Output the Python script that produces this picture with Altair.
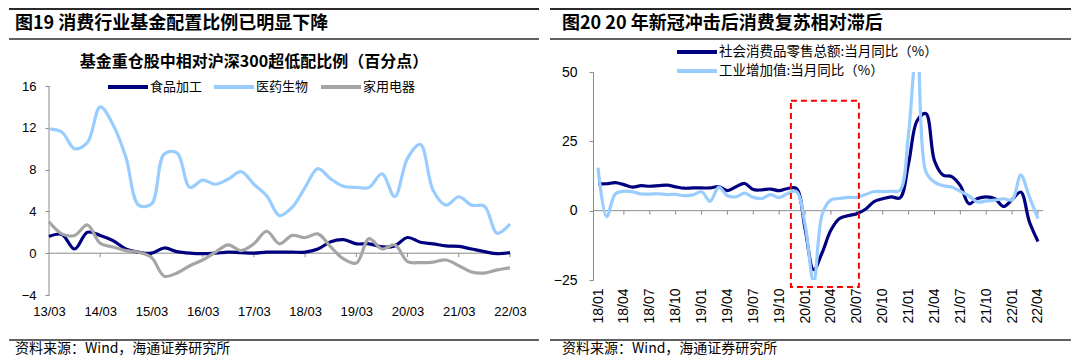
import altair as alt
import pandas as pd

CJK = "Noto Sans CJK SC"
LAT = "Liberation Sans"

# ---------------- left panel data (quarterly) ----------------
quarter_labels = [f"{y:02d}/{m:02d}" for y in range(13, 23) for m in (3, 6, 9, 12)][:37]
food = [1.6, 1.8, 0.4, 2.0, 1.7, 1.2, 0.4, 0.1, 0.0, 0.5, 0.15, 0.0,
        -0.05, 0.0, 0.1, 0.05, 0.0, 0.1, 0.1, 0.1, 0.1, 0.4, 1.1, 1.3,
        0.9, 0.9, 0.6, 0.7, 1.5, 1.05, 0.9, 0.7, 0.65, 0.4, 0.15, -0.05, 0.05]
pharma = [11.9, 11.6, 10.0, 10.6, 14.0, 12.3, 9.2, 4.6, 4.7, 9.5, 9.6, 6.3,
          7.0, 6.6, 7.1, 7.8, 6.6, 5.5, 3.6, 4.4, 6.3, 8.1, 7.1, 6.4,
          6.3, 6.3, 7.6, 5.4, 9.1, 10.4, 6.0, 4.6, 5.4, 4.6, 4.5, 1.9, 2.8]
appliance = [3.0, 1.85, 1.7, 2.7, 0.95, 0.6, 0.25, 0.1, -0.4, -2.2, -1.9, -1.2,
             -0.65, 0.1, 0.8, 0.25, 0.9, 2.1, 0.9, 1.7, 1.5, 1.85, 0.6, -0.55,
             -0.95, 1.4, 0.4, 0.8, -0.8, -0.9, -0.85, -0.65, -1.2, -1.8, -1.9, -1.6, -1.4]
left_series = ["食品加工", "医药生物", "家用电器"]
left_colors = ["#00007F", "#99CCFF", "#A5A5A5"]
left_tick_idx = list(range(0, 37, 4))
left_tick_labels = ["13/03", "14/03", "15/03", "16/03", "17/03", "18/03", "19/03", "20/03", "21/03", "22/03"]
left_y_ticks = [-4, 0, 4, 8, 12, 16]

# ---------------- right panel data (monthly) ----------------
month_labels = [f"{y:02d}/{m:02d}" for y in range(18, 23) for m in range(1, 13)][:52]
retail = [9.7, 9.7, 10.1, 9.4, 8.5, 9.0, 8.8, 9.0, 9.2, 8.6, 8.1, 8.2,
          8.2, 8.2, 8.7, 7.2, 8.6, 9.8, 7.6, 7.5, 7.8, 7.2, 8.0, 8.0,
          -6.5, -21.3, -15.0, -7.0, -2.8, -1.8, -1.1, 0.5, 3.3, 4.3, 5.0, 4.6,
          17.0, 32.5, 35.0, 18.0, 12.8, 12.3, 9.0, 2.5, 4.4, 5.0, 4.3, 1.5,
          4.0, 6.7, -4.0, -11.1]
industry = [15.5, -2.2, 6.0, 7.0, 6.8, 6.0, 6.0, 6.1, 5.8, 5.9, 5.4, 5.7,
            6.8, 3.4, 8.5, 5.4, 5.0, 6.3, 4.8, 4.4, 5.8, 4.7, 6.2, 6.9,
            -5.0, -25.9, -1.1, 3.9, 4.4, 4.8, 4.8, 5.8, 6.9, 6.9, 7.0, 7.3,
            28.0, 62.0, 14.1, 10.3, 9.0, 8.5, 7.0, 5.3, 3.1, 3.5, 3.8, 4.3,
            3.9, 12.8, 5.0, -2.9]
right_series = ["社会消费品零售总额:当月同比（%）", "工业增加值:当月同比（%）"]
right_colors = ["#00007F", "#99CCFF"]
right_tick_idx = list(range(0, 52, 3))
right_tick_labels = [month_labels[i] for i in right_tick_idx]
right_y_ticks = [-25, 0, 25, 50]
box_x = [22.36, 30.24]
box_y = [39.6, -27.5]

left_title = "图19 消费行业基金配置比例已明显下降"
left_chart_title = "基金重仓股中相对沪深300超低配比例（百分点）"
right_title = "图20 20 年新冠冲击后消费复苏相对滞后"
source_text = "资料来源：Wind，海通证券研究所"

# ---------------- frames ----------------
left_df = pd.DataFrame(
    [{"i": i, "v": v, "s": s}
     for s, vals in zip(left_series, [food, pharma, appliance])
     for i, v in enumerate(vals)]
)
right_df = pd.DataFrame(
    [{"m": i, "w": v, "t": s}
     for s, vals in zip(right_series, [retail, industry])
     for i, v in enumerate(vals)]
)
dummy = pd.DataFrame({"k": [0]})
AX_GRAY = "#8C8C8C"


def label_expr(labels, step):
    arr = ",".join(f"'{l}'" for l in labels)
    return f"[{arr}][round(datum.value/{step})]"


def hrule(x1, x2, y, w=2, color="#2B2B2B"):
    return alt.Chart(dummy).mark_rule(color=color, strokeWidth=w).encode(
        x=alt.value(x1), x2=alt.value(x2), y=alt.value(y))


def label(txt, x, y, size, bold=False, align="left", font=CJK):
    return alt.Chart(dummy).mark_text(
        text=txt, align=align, baseline="middle", fontSize=size,
        fontWeight="bold" if bold else "normal", font=font, color="#000000"
    ).encode(x=alt.value(x), y=alt.value(y))


def legend_item(x1, y, color, txt, size=13):
    return [hrule(x1, x1 + 40, y, 4, color), label(txt, x1 + 42, y, size)]


# ---------------- left chart (origin at page 48,72) ----------------
L_W = 461
L_TOP = 17.34           # headroom so both panels share the same top edge
L_H = 223
L_XSC = alt.Scale(domain=[0, 36], nice=False, zero=False)
L_YSC = alt.Scale(domain=[-4, L_TOP], nice=False, zero=False)
L_XAX = alt.Axis(values=left_tick_idx, labelExpr=label_expr(left_tick_labels, 4),
                 title=None, grid=False, domain=False, ticks=False, tickSize=0,
                 labelPadding=10, labelFont=LAT, labelFontSize=13, labelColor="#000000",
                 labelAngle=0, labelFlush=False, labelOverlap=False)
L_YAX = alt.Axis(values=left_y_ticks, title=None, grid=False, domain=False,
                 tickColor=AX_GRAY, tickSize=4, labelPadding=9, labelFont=LAT,
                 labelFontSize=13, labelColor="#000000", labelOverlap=False)

left_yline = alt.Chart(dummy).mark_rule(color=AX_GRAY, strokeWidth=1).encode(
    x=alt.value(0), y=alt.datum(left_y_ticks[0], axis=L_YAX, scale=L_YSC),
    y2=alt.datum(left_y_ticks[-1]))
left_zero = alt.Chart(dummy).mark_rule(color=AX_GRAY, strokeWidth=1).encode(
    y=alt.datum(0, axis=L_YAX, scale=L_YSC))
left_ticks = alt.Chart(pd.DataFrame({"i": left_tick_idx[1:]})).mark_rule(
    color=AX_GRAY, strokeWidth=1, y2Offset=4).encode(
    x=alt.X("i:Q", axis=L_XAX, scale=L_XSC),
    y=alt.datum(0, axis=L_YAX, scale=L_YSC), y2=alt.datum(0))
left_lines = alt.Chart(left_df).mark_line(strokeWidth=3.2, interpolate="catmull-rom").encode(
    x=alt.X("i:Q", axis=L_XAX, scale=L_XSC),
    y=alt.Y("v:Q", axis=L_YAX, scale=L_YSC),
    color=alt.Color("s:N", scale=alt.Scale(domain=left_series, range=left_colors), legend=None),
)

left_layers = [left_yline, left_zero, left_ticks, left_lines,
               hrule(-40, 490, -63, 2),
               label(left_title, -34, -48, 18, bold=True),
               hrule(-40, 490, -33, 1.5),
               label(left_chart_title, 205, -10, 16, bold=True, align="center"),
               hrule(-40, 490, 268, 1.5),
               label(source_text, -34, 276.5, 14)]
for x1, s, c in zip([59, 165, 272], left_series, left_colors):
    left_layers += legend_item(x1, 15, c, s)
left = alt.layer(*left_layers).properties(width=L_W, height=L_H)

# ---------------- right chart (origin at page 593,72) ----------------
R_W, R_H = 450, 208
R_XSC = alt.Scale(domain=[-0.58, 51.58], nice=False, zero=False)
R_YSC = alt.Scale(domain=[-25, 50], nice=False, zero=False)
R_XAX = alt.Axis(values=right_tick_idx, labelExpr=label_expr(right_tick_labels, 3),
                 title=None, grid=False, domain=False, ticks=False, tickSize=0,
                 labelPadding=8, labelFont=LAT, labelFontSize=14, labelColor="#000000",
                 labelAngle=270, labelAlign="right", labelBaseline="middle",
                 labelFlush=False, labelOverlap=False, labelSeparation=0)
R_YAX = alt.Axis(values=right_y_ticks, title=None, grid=False, domainColor=AX_GRAY,
                 tickColor=AX_GRAY, tickSize=4, labelPadding=12, labelFont=LAT,
                 labelFontSize=14, labelColor="#000000", labelOverlap=False)

right_zero = alt.Chart(dummy).mark_rule(color=AX_GRAY, strokeWidth=1).encode(
    y=alt.datum(0, axis=R_YAX, scale=R_YSC))
right_ticks = alt.Chart(pd.DataFrame({"m": right_tick_idx[1:]})).mark_rule(
    color=AX_GRAY, strokeWidth=1, y2Offset=4).encode(
    x=alt.X("m:Q", axis=R_XAX, scale=R_XSC),
    y=alt.datum(0, axis=R_YAX, scale=R_YSC), y2=alt.datum(0))
right_lines = alt.Chart(right_df).mark_line(strokeWidth=3.2, interpolate="catmull-rom", clip=True).encode(
    x=alt.X("m:Q", axis=R_XAX, scale=R_XSC),
    y=alt.Y("w:Q", axis=R_YAX, scale=R_YSC),
    color=alt.Color("t:N", scale=alt.Scale(domain=right_series, range=right_colors), legend=None),
)
red_box = alt.Chart(pd.DataFrame({"x1": [box_x[0]], "x2": [box_x[1]],
                                  "y1": [box_y[0]], "y2": [box_y[1]]})).mark_rect(
    fillOpacity=0, stroke="#FF0000", strokeWidth=2, strokeDash=[6, 4]).encode(
    x=alt.X("x1:Q", axis=R_XAX, scale=R_XSC), x2="x2:Q",
    y=alt.Y("y1:Q", axis=R_YAX, scale=R_YSC), y2="y2:Q")

right_layers = [right_zero, right_ticks, right_lines, red_box,
                hrule(-43, 478, -63, 2),
                label(right_title, -31, -48, 18, bold=True),
                hrule(-43, 478, -33, 1.5),
                hrule(-43, 478, 268, 1.5),
                label(source_text, -31, 276.5, 14)]
for y, s, c in zip([-20, -1], right_series, right_colors):
    right_layers += legend_item(84, y, c, s, 13.5)
right = alt.layer(*right_layers).properties(width=R_W, height=R_H)

chart = alt.hconcat(left, right, spacing=9).resolve_scale(
    x="independent", y="independent", color="independent"
).properties(padding=0).configure_view(strokeWidth=0)

chart.save("out.html", embed_options={"renderer": "svg", "actions": False})
